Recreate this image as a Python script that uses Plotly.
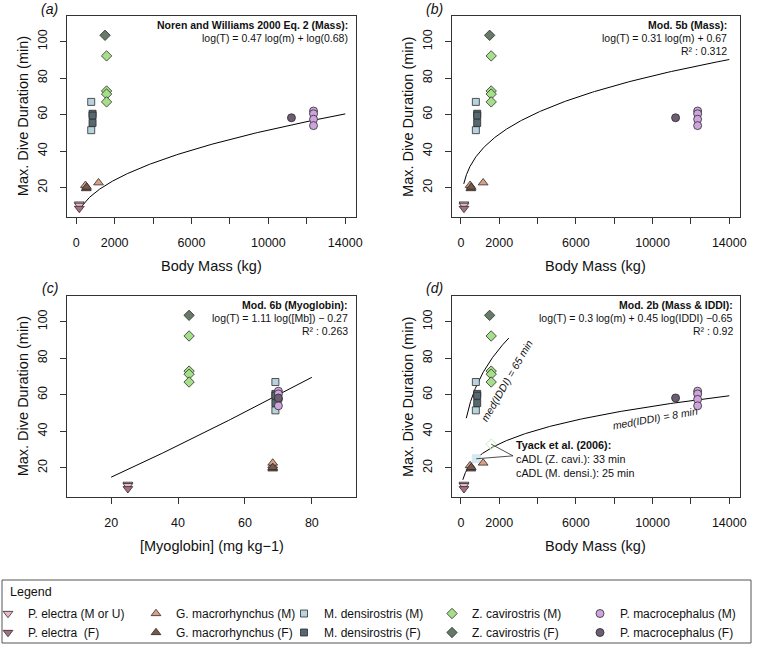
import numpy as np
import plotly.graph_objects as go

FONT = "Liberation Sans, Arial, Helvetica, sans-serif"
W, H = 760, 645
MB = 60                      # bottom margin (legend lives there)
GH = H - MB                  # plot-area height in px

# ---------------- data ----------------
species = ["P. electra", "G. macrorhynchus", "M. densirostris", "Z. cavirostris", "P. macrocephalus"]
label_m = ["P. electra (M or U)", "G. macrorhynchus (M)", "M. densirostris (M)", "Z. cavirostris (M)", "P. macrocephalus (M)"]
label_f = ["P. electra  (F)", "G. macrorhynchus (F)", "M. densirostris (F)", "Z. cavirostris (F)", "P. macrocephalus (F)"]
symbols = ["triangle-down", "triangle-up", "square", "diamond", "circle"]
myoglobin = [25.0, 68.3, 69.1, 43.3, 70.0]          # mg kg-1 per species
colors_m = ["#eab7c9", "#dc9f86", "#b8d2de", "#a6df8a", "#cfa4dd"]
colors_f = ["#a5707f", "#7b5747", "#566870", "#667a68", "#6c5d72"]

mass_m = [[160, 160], [480, 1160], [780, 780], [1580, 1580, 1580, 1580], [12350, 12350, 12350, 12350]]
dive_m = [[11.0, 10.3], [21.3, 22.7], [67.0, 51.5], [92.2, 73.0, 71.3, 67.0], [62.0, 60.5, 57.5, 54.0]]
mass_f = [[160], [520, 540], [850, 850, 850], [1500], [11200]]
dive_f = [[8.6], [19.5, 20.3], [60.5, 59.5, 55.5], [103.5], [58.3]]

# Tyack et al. (2006) calculated ADL
cadl_mass = [1580, 800]
cadl_min = [33, 25]
cadl_colors = ["#c9efb8", "#d6e8f0"]
cadl_symbols = ["diamond-open", "square"]

# model coefficients (log10)
nw_slope, nw_const = 0.47, 0.68          # T = 0.68 * m^0.47
m5b_slope, m5b_int = 0.31, 0.67
m6b_slope, m6b_int = 1.11, -0.27
m2b_mass, m2b_iddi, m2b_int_drawn = 0.30, 0.45, -0.676   # IDDI in seconds
iddi_minutes = [65, 8]

mass_range_curve = (150, 14000)
mb_range_curve = (20, 80)
iddi_mass_ranges = [(280, 2500), (100, 14000)]

mass_ticks = [0, 2000, 4000, 6000, 8000, 10000, 12000, 14000]
mass_ticktext = ["0", "2000", "", "6000", "", "10000", "", "14000"]
dive_ticks = [20, 40, 60, 80, 100]
mb_ticks = [20, 40, 60, 80]

# ---------------- figure ----------------
fig = go.Figure()

# plot areas in pixels (left, right, top, bottom)
boxes = {
    "a": (67, 356, 16, 217),
    "b": (451.7, 740, 16, 217),
    "c": (67, 356, 296, 497.3),
    "d": (451.7, 740, 296, 497.3),
}
axnames = {"a": ("x", "y"), "b": ("x2", "y2"), "c": ("x3", "y3"), "d": ("x4", "y4")}
legend_ids = ["legend", "legend2", "legend3", "legend4", "legend5"]   # one legend column per species

def py(pix):            # pixel row -> paper y
    return (GH - pix) / GH

def dom(box):
    l, r, t, b = box
    return [l / W, r / W], [py(b), py(t)]

def add_points(panel, use_mb, showlegend):
    xa, ya = axnames[panel]
    for i in range(len(species)):
        for sex, mass, dive, cols, labs, rank in (
            ("M", mass_m, dive_m, colors_m, label_m, 0),
            ("F", mass_f, dive_f, colors_f, label_f, 10),
        ):
            xs = [myoglobin[i]] * len(dive[i]) if use_mb else mass[i]
            sz = 7 if symbols[i] == "square" else (8.5 if "triangle" in symbols[i] else 8)
            fig.add_trace(go.Scatter(
                x=xs, y=dive[i], mode="markers", xaxis=xa, yaxis=ya,
                name=labs[i], showlegend=showlegend, legend=legend_ids[i],
                legendrank=rank + i,
                marker=dict(symbol=symbols[i], size=sz, color=cols[i],
                            line=dict(color="#2b2b2b", width=0.8)),
                hoverinfo="skip",
            ))

line_style = dict(color="black", width=1)

# (a) Noren & Williams
m = np.geomspace(*mass_range_curve, 300)
fig.add_trace(go.Scatter(x=m, y=nw_const * m ** nw_slope, mode="lines", line=line_style,
                         xaxis="x", yaxis="y", showlegend=False, hoverinfo="skip"))
add_points("a", False, True)

# (b) Mod 5b
fig.add_trace(go.Scatter(x=m, y=10 ** m5b_int * m ** m5b_slope, mode="lines", line=line_style,
                         xaxis="x2", yaxis="y2", showlegend=False, hoverinfo="skip"))
add_points("b", False, False)

# (c) Mod 6b
mb = np.linspace(*mb_range_curve, 100)
fig.add_trace(go.Scatter(x=mb, y=10 ** m6b_int * mb ** m6b_slope, mode="lines", line=line_style,
                         xaxis="x3", yaxis="y3", showlegend=False, hoverinfo="skip"))
add_points("c", True, False)

# (d) Mod 2b with two IDDI values
for iddi, rng in zip(iddi_minutes, iddi_mass_ranges):
    mm = np.geomspace(*rng, 300)
    yy = 10 ** m2b_int_drawn * mm ** m2b_mass * (iddi * 60) ** m2b_iddi
    fig.add_trace(go.Scatter(x=mm, y=yy, mode="lines", line=line_style,
                             xaxis="x4", yaxis="y4", showlegend=False, hoverinfo="skip"))
for xm, yv, c, s in zip(cadl_mass, cadl_min, cadl_colors, cadl_symbols):
    fig.add_trace(go.Scatter(x=[xm], y=[yv], mode="markers", xaxis="x4", yaxis="y4",
                             showlegend=False, hoverinfo="skip",
                             marker=dict(symbol=s, size=8, color=c,
                                         line=dict(color=c, width=1))))
add_points("d", False, False)

# pointer lines from Tyack label to cADL points
label_anchor = (2720, 26.6)
for xm, yv in zip(cadl_mass, cadl_min):
    fig.add_shape(type="line", xref="x4", yref="y4", x0=label_anchor[0], y0=label_anchor[1],
                  x1=xm, y1=yv, line=dict(color="#222", width=0.8))

# axes
layout = dict(
    width=W, height=H, margin=dict(l=0, r=0, t=0, b=MB, autoexpand=False),
    paper_bgcolor="white", plot_bgcolor="white",
    font=dict(family=FONT, color="#111"),
    showlegend=True,
)
common = dict(showline=True, linecolor="#333", linewidth=1, mirror=True, ticks="outside",
              ticklen=6, tickcolor="#333", tickwidth=1, showgrid=False, zeroline=False,
              tickfont=dict(size=12.5, color="#111", family=FONT), ticklabelstandoff=8)
for k, p in zip(["", "2", "3", "4"], ["a", "b", "c", "d"]):
    xd, yd = dom(boxes[p])
    if p == "c":
        xax = dict(domain=xd, range=[6.8, 93.2], tickvals=mb_ticks, anchor="y" + k, **common)
    else:
        xax = dict(domain=xd, range=[-480, 14560], tickvals=mass_ticks, ticktext=mass_ticktext,
                   anchor="y" + k, **common)
    yax = dict(domain=yd, range=[3.92, 114.08], tickvals=dive_ticks, tickangle=-90,
               anchor="x" + k, **common)
    layout["xaxis" + k] = xax
    layout["yaxis" + k] = yax

# legend columns (text of column j starts 40 px right of its x)
legend_text_px = [28, 176, 324, 472, 620]
for lid, tx in zip(legend_ids, legend_text_px):
    layout[lid] = dict(
        orientation="v", x=(tx - 40) / W, y=py(599), xanchor="left", yanchor="top",
        font=dict(size=12, family=FONT, color="#111"), bgcolor="rgba(0,0,0,0)",
        borderwidth=0, traceorder="normal", tracegroupgap=0, itemsizing="trace",
    )

fig.update_layout(**layout)

# annotations
def ann(text, xa, ya, x, y, xshift=0, yshift=0, size=12, xanchor="center", yanchor="middle",
        angle=0, ref_domain=True, color="#111"):
    fig.add_annotation(text=text, xref=(xa + " domain") if ref_domain else xa,
                       yref=(ya + " domain") if ref_domain else ya, x=x, y=y,
                       xshift=xshift, yshift=yshift, showarrow=False, textangle=angle,
                       xanchor=xanchor, yanchor=yanchor,
                       font=dict(size=size, family=FONT, color=color))

panel_tags = {"a": "(a)", "b": "(b)", "c": "(c)", "d": "(d)"}
xtitles = {"a": "Body Mass (kg)", "b": "Body Mass (kg)", "c": "[Myoglobin] (mg kg\u22121)", "d": "Body Mass (kg)"}
model_text = {
    "a": ["<b>Noren and Williams 2000 Eq. 2 (Mass):</b>", "log(T) = 0.47 log(m) + log(0.68)"],
    "b": ["<b>Mod. 5b (Mass):</b>", "log(T) = 0.31 log(m) + 0.67", "R\u00b2 : 0.312"],
    "c": ["<b>Mod. 6b (Myoglobin):</b>", "log(T) = 1.11 log([Mb]) \u2212 0.27", "R\u00b2 : 0.263"],
    "d": ["<b>Mod. 2b (Mass & IDDI):</b>", "log(T) = 0.3 log(m) + 0.45 log(IDDI) \u22120.65", "R\u00b2 : 0.92"],
}
right_inset = {"a": -6, "b": -10.7, "c": -6, "d": -5}

for p in ["a", "b", "c", "d"]:
    xa, ya = axnames[p]
    ann("<i>" + panel_tags[p] + "</i>", xa, ya, 0, 1, xshift=-17.5, yshift=7 if p in "ab" else 8, size=14)
    ann("Max. Dive Duration (min)", xa, ya, 0, 0.5, xshift=-44.3, size=14.5, angle=-90)
    ann(xtitles[p], xa, ya, 0.5, 0, yshift=-48.7, size=14.5)
    for i, line in enumerate(model_text[p]):
        ann(line, xa, ya, 1, 1, xshift=right_inset[p], yshift=-(8.5 + 13.3 * i), size=10.5,
            xanchor="right")

# curve labels in panel (d)
ann("<i>med(IDDI) = 65 min</i>", "x4", "y4", 2380, 67.5, size=10.5, angle=-60, ref_domain=False)
ann("<i>med(IDDI) = 8 min</i>", "x4", "y4", 10150, 47.4, size=10.5, angle=-10, ref_domain=False)
ann("<b>Tyack et al. (2006):</b><br>cADL (Z. cavi.): 33 min<br>cADL (M. densi.): 25 min",
    "x4", "y4", 2760, 25.0, size=10.8, xanchor="left", ref_domain=False)
fig.layout.annotations[-1].align = "left"

# legend frame and heading
fig.add_shape(type="rect", xref="paper", yref="paper", x0=2 / W, x1=751 / W,
              y0=py(643), y1=py(580), line=dict(color="#555", width=1))
fig.add_annotation(text="Legend", xref="paper", yref="paper", x=8 / W, y=py(591.7),
                   xanchor="left", yanchor="middle", showarrow=False,
                   font=dict(size=12.5, family=FONT, color="#111"))

# remove the default 8px page margin so the 760x645 figure fills the window exactly
fig.write_html("out.html", config={"displayModeBar": False},
               post_script="document.body.style.margin='0';")
